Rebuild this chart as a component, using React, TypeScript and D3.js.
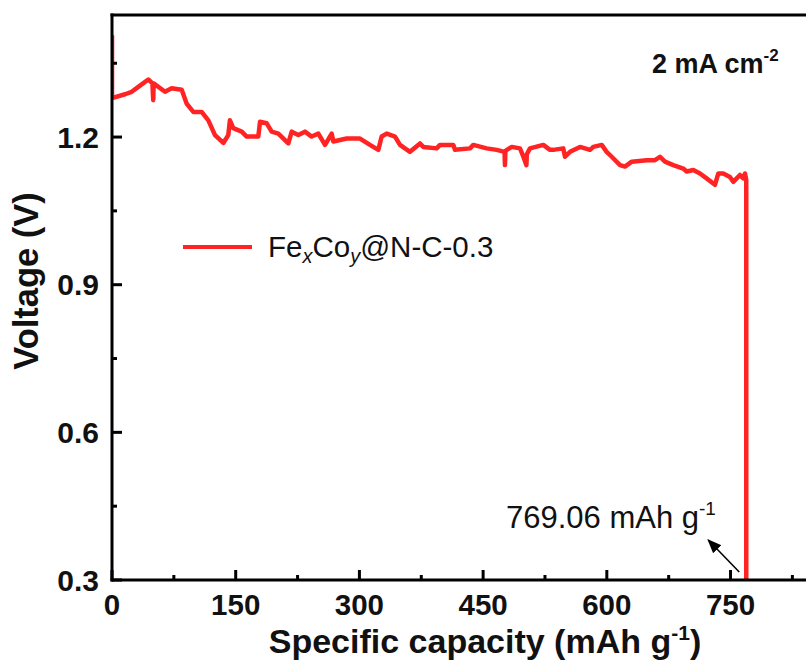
import React from "react";
import * as d3 from "d3";

const capacity = [
  0, 0, 15.8, 23.9, 31.9, 44, 49, 50, 50.5, 64.3, 72.3, 84.5, 90.5, 98.6, 108.7, 116.8, 124.9, 135, 141, 143, 147,
  157.3, 163.3, 177.4, 179.5, 187.6, 193.6, 201.7, 213.8, 217.9, 225.9, 234, 242.1, 250.2, 258.3, 266.4, 268.4,
  284.6, 300.7, 312.8, 322.9, 327, 333.1, 343.2, 349.2, 361.3, 373.5, 377.5, 393.7, 397.7, 413.9, 415.9, 434.1,
  438.1, 454.3, 466.5, 476, 476.5, 477, 484.7, 494.7, 498.8, 502.5, 503, 506.8, 523, 531.1, 535.1, 547.2, 549.3,
  555.4, 567.5, 579.6, 583.6, 593.8, 599.8, 605.9, 616, 622, 630.2, 648.4, 658.4, 664.5, 670.5, 680.6, 692.7,
  696.8, 704.9, 713, 721, 731.1, 735.2, 741.2, 749.3, 753.3, 761.4, 765.5, 767.5, 769.06, 769.06,
];
const voltage = [
  1.407, 1.279, 1.287, 1.292, 1.302, 1.317, 1.309, 1.275, 1.309, 1.292, 1.299, 1.296, 1.268, 1.251, 1.251, 1.234,
  1.204, 1.188, 1.204, 1.234, 1.218, 1.211, 1.201, 1.201, 1.231, 1.228, 1.211, 1.207, 1.187, 1.211, 1.204, 1.211,
  1.201, 1.207, 1.184, 1.207, 1.191, 1.197, 1.197, 1.184, 1.174, 1.201, 1.207, 1.201, 1.184, 1.17, 1.187, 1.18,
  1.177, 1.184, 1.184, 1.174, 1.177, 1.184, 1.177, 1.174, 1.17, 1.143, 1.172, 1.18, 1.177, 1.16, 1.143, 1.165,
  1.177, 1.184, 1.174, 1.174, 1.177, 1.16, 1.17, 1.18, 1.174, 1.18, 1.184, 1.17, 1.16, 1.143, 1.14, 1.15, 1.153,
  1.153, 1.16, 1.15, 1.143, 1.136, 1.13, 1.133, 1.126, 1.116, 1.103, 1.126, 1.126, 1.119, 1.109, 1.123, 1.116,
  1.126, 1.113, 0.28,
];
const xMajorTicks = [0, 150, 300, 450, 600, 750];
const xMinorTicks = [75, 225, 375, 525, 675, 825];
const yMajorTicks = [0.3, 0.6, 0.9, 1.2];
const yMinorTicks = [0.45, 0.75, 1.05, 1.35];
const seriesName = "Fe";
const finalCapacity = 769.06;

const W = 806;
const H = 664;
const left = 112;
const top = 15;
const bottom = 580;
const right = 813;
const RED = "#ff2323";
const FONT = "Liberation Sans, Arial, sans-serif";

export default function App() {
  const x = d3.scaleLinear().domain([0, 850]).range([left, right]);
  const y = d3.scaleLinear().domain([0.3, 1.448]).range([bottom, top]);
  const pts: [number, number][] = capacity.map((c, i) => [c, voltage[i]]);
  const line = d3
    .line<[number, number]>()
    .x((d) => x(d[0]))
    .y((d) => y(d[1]));

  const ax = x(finalCapacity);
  const ay = y(0.3);

  return (
    <svg
      width={W}
      height={H}
      style={{ position: "absolute", left: 0, top: 0, background: "#fff" }}
      fontFamily={FONT}
    >
      <defs>
        <clipPath id="plotclip">
          <rect x={left} y={top} width={right - left} height={bottom - top} />
        </clipPath>
        <marker id="arrowhead" viewBox="0 0 10 10" refX="9" refY="5" markerWidth="9" markerHeight="9" orient="auto">
          <path d="M0,1 L10,5 L0,9 z" fill="#000" />
        </marker>
      </defs>
      <rect x={0} y={0} width={W} height={H} fill="#fff" />

      {/* data line */}
      <g clipPath="url(#plotclip)">
        <path d={line(pts) || ""} fill="none" stroke={RED} strokeWidth={4.5} strokeLinejoin="round" />
      </g>

      {/* axes frame */}
      <line x1={left} x2={left} y1={top - 1.5} y2={bottom + 1.5} stroke="#000" strokeWidth={3} />
      <line x1={left - 1.5} x2={W} y1={bottom} y2={bottom} stroke="#000" strokeWidth={3} />
      <line x1={left - 1.5} x2={W} y1={top} y2={top} stroke="#000" strokeWidth={3} />

      {/* x ticks */}
      {xMajorTicks.map((t) => (
        <g key={"xM" + t}>
          <line x1={x(t)} x2={x(t)} y1={bottom} y2={bottom - 10} stroke="#000" strokeWidth={3} />
          <text x={x(t)} y={615} textAnchor="middle" fontSize={29.5} fontWeight="bold" fill="#111">
            {t}
          </text>
        </g>
      ))}
      {xMinorTicks.map((t) => (
        <line key={"xm" + t} x1={x(t)} x2={x(t)} y1={bottom} y2={bottom - 5} stroke="#000" strokeWidth={3} />
      ))}

      {/* y ticks */}
      {yMajorTicks.map((t) => (
        <g key={"yM" + t}>
          <line x1={left} x2={left + 10} y1={y(t)} y2={y(t)} stroke="#000" strokeWidth={3} />
          <text x={99} y={y(t) + 10.5} textAnchor="end" fontSize={30} fontWeight="bold" fill="#111">
            {t.toFixed(1)}
          </text>
        </g>
      ))}
      {yMinorTicks.map((t) => (
        <line key={"ym" + t} x1={left} x2={left + 5} y1={y(t)} y2={y(t)} stroke="#000" strokeWidth={3} />
      ))}

      {/* axis titles */}
      <text x={485} y={653} textAnchor="middle" fontSize={34} fontWeight="bold" fill="#111">
        Specific capacity (mAh g
        <tspan dy={-13} fontSize={21}>-1</tspan>
        <tspan dy={13}>)</tspan>
      </text>
      <text
        transform={`translate(38,281) rotate(-90)`}
        textAnchor="middle"
        fontSize={34.5}
        fontWeight="bold"
        fill="#111"
      >
        Voltage (V)
      </text>

      {/* current density label */}
      <text x={652} y={73} fontSize={27} fontWeight="bold" fill="#111">
        2 mA cm
        <tspan dy={-12} fontSize={17}>-2</tspan>
      </text>

      {/* legend */}
      <line x1={183} x2={252} y1={247} y2={247} stroke={RED} strokeWidth={4} />
      <text x={268} y={257} fontSize={29.5} fill="#111">
        {seriesName}
        <tspan fontSize={20} fontStyle="italic" dy={6}>x</tspan>
        <tspan dy={-6}>Co</tspan>
        <tspan fontSize={20} fontStyle="italic" dy={6}>y</tspan>
        <tspan dy={-6}>@N-C-0.3</tspan>
      </text>

      {/* annotation */}
      <text x={506} y={528} fontSize={31} fill="#111">
        {finalCapacity.toFixed(2)} mAh g
        <tspan dy={-13} fontSize={19}>-1</tspan>
      </text>
      <line
        x1={ax - 7}
        y1={ay - 8}
        x2={ax - 38}
        y2={ay - 40}
        stroke="#000"
        strokeWidth={1.6}
        markerEnd="url(#arrowhead)"
      />
    </svg>
  );
}
